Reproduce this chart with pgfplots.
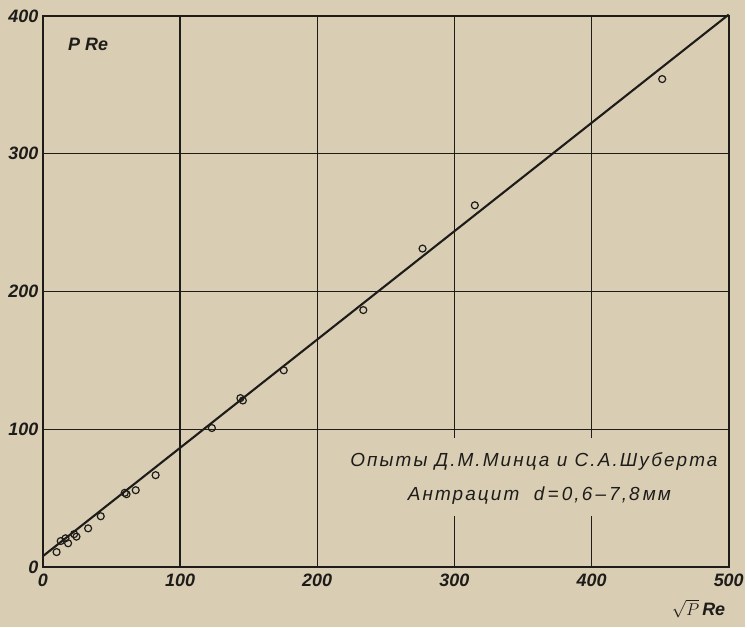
\documentclass[border=0pt]{standalone}
\usepackage{pgfplots}
\pgfplotsset{compat=1.18}
\usepackage{fontspec}
\setmainfont{Liberation Sans}
\definecolor{bg}{RGB}{217,205,180}
\definecolor{ink}{RGB}{30,28,25}
\begin{document}
\begin{tikzpicture}
\fill[bg] (-43bp,-60bp) rectangle (704bp,569bp);
\begin{axis}[
  at={(0,0)}, anchor=south west,
  scale only axis, width=688bp, height=553bp,
  xmin=0, xmax=500, ymin=0, ymax=400,
  xtick={0,100,...,500}, ytick={0,100,...,400},
  grid=major, major grid style={ink, line width=1.3bp},
  axis line style={ink, line width=1.8bp},
  major tick length=0pt,
  /pgf/number format/assume math mode=true,
  ticklabel style={font=\fontsize{18bp}{20bp}\selectfont\itshape\bfseries, text=ink},
  yticklabel style={xshift=-1bp},
  xticklabel style={yshift=-3bp},
  clip=false,
]
\addplot[ink, line width=2.1bp] coordinates {(0,8) (500,401)};
\addplot[only marks, mark=o, mark size=3.5bp, ink, mark options={line width=1.2bp}] coordinates {
(10,11) (13,19) (16.5,21) (18.4,17.4) (22.8,24) (24.5,22.2) (33,28.2) (42.2,37)
(59.7,54) (61,53) (67.7,55.9) (82.2,66.8) (123.2,101) (144,122.7) (145.8,121)
(175.6,142.9) (233.6,186.6) (276.8,231.2) (314.9,262.6) (451.5,354.2)
};
\node[fill=bg, inner sep=0pt, minimum width=378bp, minimum height=78bp] at (axis cs:355,65.5) {};
\node[text=ink, font=\fontsize{19bp}{22bp}\selectfont\itshape\addfontfeature{LetterSpace=11}] at (axis cs:358,77) {Опыты Д.М.Минца и С.А.Шуберта};
\node[text=ink, font=\fontsize{19bp}{22bp}\selectfont\itshape\addfontfeature{LetterSpace=11}] at (axis cs:362,52) {Антрацит\ \ d\,=\,0,6\,–\,7,8\,мм};
\node[text=ink, font=\fontsize{18bp}{20bp}\selectfont\itshape\bfseries] at (axis cs:33,379) {P Re};
\node[text=ink, font=\fontsize{18bp}{20bp}\selectfont\itshape\bfseries, anchor=north east] at (axis cs:500,-21) {$\sqrt{P}$\,Re};
\end{axis}
\end{tikzpicture}
\end{document}
